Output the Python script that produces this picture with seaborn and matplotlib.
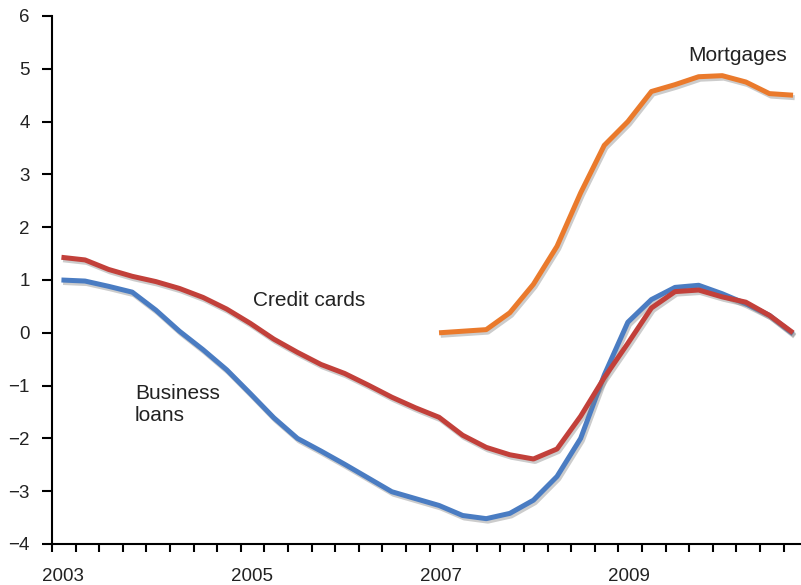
import numpy as np
import pandas as pd
import matplotlib
matplotlib.use("Agg")
import matplotlib.pyplot as plt
import matplotlib.patheffects as pe
from matplotlib.transforms import ScaledTranslation
import seaborn as sns

# Quarterly observations
times = [2003.1 + 0.25 * k for k in range(32)]
credit_cards = [1.43, 1.38, 1.20, 1.07, 0.97, 0.84, 0.67, 0.45, 0.18, -0.12,
                -0.37, -0.60, -0.77, -0.99, -1.22, -1.42, -1.60, -1.94, -2.17, -2.31,
                -2.39, -2.20, -1.58, -0.85, -0.20, 0.47, 0.78, 0.81, 0.68, 0.58,
                0.33, 0.00]
business_loans = [1.00, 0.98, 0.88, 0.77, 0.43, 0.03, -0.32, -0.70, -1.15, -1.61,
                  -2.00, -2.24, -2.49, -2.75, -3.01, -3.14, -3.27, -3.46, -3.52, -3.42,
                  -3.17, -2.72, -2.00, -0.80, 0.20, 0.63, 0.86, 0.90, 0.74, 0.55,
                  0.33, -0.02]
mortgage_times = times[16:]
mortgages = [0.00, 0.03, 0.06, 0.38, 0.92, 1.64, 2.65, 3.55, 4.00, 4.57,
             4.70, 4.85, 4.87, 4.75, 4.53, 4.50]

series_names = ["Business loans", "Credit cards", "Mortgages"]
series_colors = ["#4a7cc2", "#c2403a", "#ea7a2c"]

year_labels = ["2003", "2005", "2007", "2009"]
y_ticks = list(range(-4, 7))

df = pd.concat([
    pd.DataFrame({"t": times, "v": business_loans, "s": "Business loans"}),
    pd.DataFrame({"t": times, "v": credit_cards, "s": "Credit cards"}),
    pd.DataFrame({"t": mortgage_times, "v": mortgages, "s": "Mortgages"}),
], ignore_index=True)

sns.set_style("ticks")
plt.rcParams["font.family"] = ["Liberation Sans", "DejaVu Sans"]

fig = plt.figure(figsize=(8.01, 5.85), dpi=100)
ax = fig.add_axes([52 / 801, 41 / 585, 1 - 52 / 801, 528 / 585])

sns.lineplot(data=df, x="t", y="v", hue="s", hue_order=series_names,
             palette=series_colors, linewidth=3.6, legend=False, ax=ax,
             estimator=None, sort=True)

for ln in ax.lines:
    ln.set_solid_capstyle("butt")
    ln.set_solid_joinstyle("round")
    ln.set_path_effects([
        pe.SimpleLineShadow(offset=(1.2, -1.8), shadow_color="#808080", alpha=0.4),
        pe.Normal(),
    ])

ax.set_xlim(2003, 2003 + 749 / 94.4)
ax.set_ylim(-4, 6)

# x ticks every quarter, labels at selected years
quarters = [2003 + 0.25 * k for k in range(32)]
labels = []
for q in quarters:
    s = str(int(q)) if abs(q - round(q)) < 1e-9 and str(int(q)) in year_labels else ""
    labels.append(s)
ax.set_xticks(quarters)
ax.set_xticklabels(labels)
ax.set_yticks(y_ticks)
ax.set_yticklabels([str(v).replace("-", "\u2212") for v in y_ticks])

ax.tick_params(axis="x", direction="out", length=6, width=1.5, color="black",
               labelsize=13.5, pad=11, labelcolor="#222222")
ax.tick_params(axis="y", direction="out", length=7, width=1.5, color="black",
               labelsize=13.5, pad=9, labelcolor="#222222")
offset = ScaledTranslation(11 / 100, 0, fig.dpi_scale_trans)
for lab in ax.get_xticklabels():
    lab.set_transform(lab.get_transform() + offset)

for side in ["top", "right"]:
    ax.spines[side].set_visible(False)
for side in ["left", "bottom"]:
    ax.spines[side].set_linewidth(1.5)
    ax.spines[side].set_color("black")
ax.set_xlabel("")
ax.set_ylabel("")
ax.grid(False)

box = dict(facecolor="white", edgecolor="none", pad=2)
ax.text(2010.26, 5.26, "Mortgages", fontsize=15, ha="center", va="center",
        color="#222222", bbox=box)
ax.text(2005.72, 0.62, "Credit cards", fontsize=15, ha="center", va="center",
        color="#222222", bbox=box)
ax.text(2003.88, -1.36, "Business\nloans", fontsize=15, ha="left", va="center",
        color="#222222", linespacing=1.2, bbox=box)

fig.savefig("out.png", dpi=100)
